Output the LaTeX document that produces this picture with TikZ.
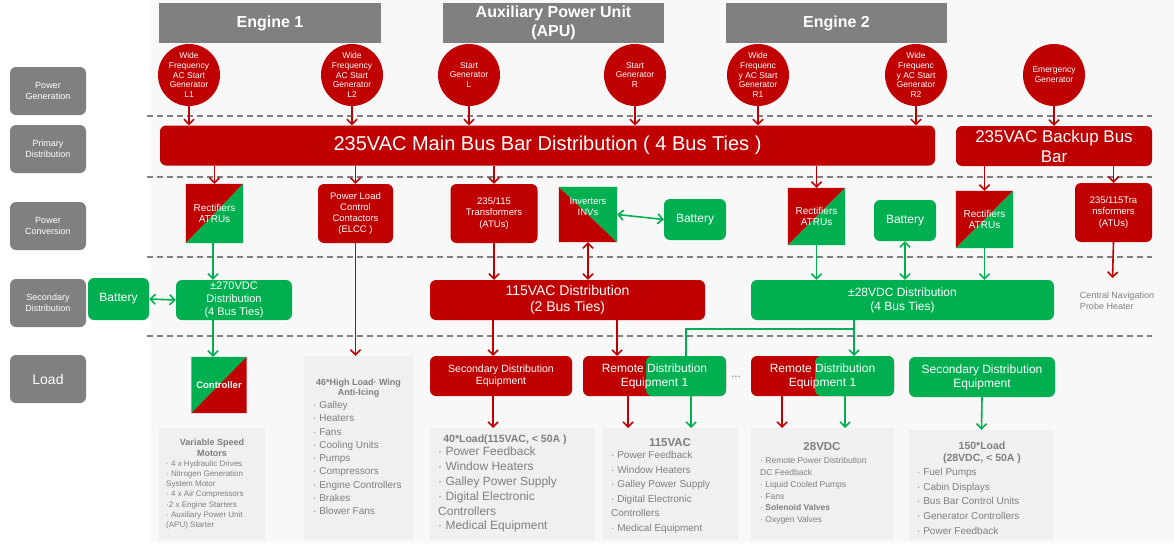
\documentclass[tikz,border=0pt]{standalone}
\usepackage{fontspec}
\setmainfont{Liberation Sans}
\usetikzlibrary{arrows.meta}
\definecolor{rd}{HTML}{C00000}
\definecolor{gn}{HTML}{00B050}
\definecolor{gy}{HTML}{808080}
\definecolor{tg}{HTML}{7F7F7F}
\definecolor{bg}{HTML}{F8F8F8}
\definecolor{lb}{HTML}{F0F0F0}
\newcommand{\fs}[1]{\fontsize{#1pt}{1.18\dimexpr #1pt\relax}\selectfont}
\tikzset{
 hdr/.style={fill=gy,text=white,font=\fs{16}\bfseries,align=center,inner sep=0pt},
 lab/.style={fill=gy,rounded corners=6pt,text=white,font=\fs{9},align=center,minimum width=76pt,minimum height=48pt,inner sep=0pt},
 gen/.style={circle,fill=rd,text=white,font=\fontsize{8.5}{9.8}\selectfont,align=center,minimum size=62pt,inner sep=0pt},
 rb/.style={fill=rd,rounded corners=6pt,text=white,align=center,inner sep=0pt},
 gb/.style={fill=gn,rounded corners=6pt,text=white,align=center,inner sep=0pt},
 sq/.style={inner sep=0pt,draw=none},
 sqt/.style={text=white,align=center,font=\fs{10}},
 lbox/.style={fill=lb,inner sep=0pt},
 ltx/.style={text=tg,align=left,inner sep=0pt},
 ra/.style={draw=rd,line width=1.6pt,-{Straight Barb[length=5pt,width=10pt]}},
 ga/.style={draw=gn,line width=1.6pt,-{Straight Barb[length=5pt,width=10pt]}},
 rda/.style={draw=rd,line width=1.6pt,{Straight Barb[length=5pt,width=10pt]}-{Straight Barb[length=5pt,width=10pt]}},
 gda/.style={draw=gn,line width=1.6pt,{Straight Barb[length=5pt,width=10pt]}-{Straight Barb[length=5pt,width=10pt]}},
 dl/.style={draw=gy,line width=1.3pt,dash pattern=on 6pt off 4pt},
}
\begin{document}
\begin{tikzpicture}[x=1pt,y=-1pt]
\useasboundingbox (0,0) rectangle (1174,543);
\fill[white] (0,0) rectangle (1174,543);
\fill[bg] (150,0) rectangle (1174,543);
% dashed separators
\foreach \y in {116,177,257,336} \draw[dl] (147,\y) -- (1152,\y);
% headers
\node[hdr,minimum width=222pt,minimum height=40pt] (e1) at (270,23) {Engine 1};
\node[hdr,minimum width=221pt,minimum height=40pt] (apu) at (553.5,23) {Auxiliary Power Unit\\(APU)};
\node[hdr,minimum width=221pt,minimum height=40pt] (e2) at (836.5,23) {Engine 2};
% left labels
\node[lab] (l1) at (48,91) {Power\\Generation};
\node[lab] (l2) at (48,149) {Primary\\Distribution};
\node[lab] (l3) at (48,226) {Power\\Conversion};
\node[lab] (l4) at (48,303) {Secondary\\Distribution};
\node[lab,font=\fs{14}] (l5) at (48,379) {Load};
% generators
\node[gen] (gL1) at (189,75) {Wide\\Frequency\\AC Start\\Generator\\L1};
\node[gen] (gL2) at (352,75) {Wide\\Frequency\\AC Start\\Generator\\L2};
\node[gen] (gSL) at (469,75) {Start\\Generator\\L};
\node[gen] (gSR) at (635,75) {Start\\Generator\\R};
\node[gen] (gR1) at (758,75) {Wide\\Frequenc\\y AC Start\\Generator\\R1};
\node[gen] (gR2) at (916,75) {Wide\\Frequenc\\y AC Start\\Generator\\R2};
\node[gen] (gEm) at (1054,75) {Emergency\\Generator};
% buses
\node[rb,font=\fs{20},minimum width=775pt,minimum height=40pt] (main) at (547.5,145.5) {235VAC Main Bus Bar Distribution ( 4 Bus Ties )};
\node[rb,font=\fs{17},minimum width=196pt,minimum height=40pt] (bk) at (1054,146) {235VAC Backup Bus\\Bar};
\foreach \g in {gL1,gL2,gSL,gSR,gR1,gR2} \draw[ra] (\g.south) -- (\g.south |- main.north);
\draw[ra] (gEm.south) -- (gEm.south |- bk.north);
% conversion
\node[sq,minimum width=57pt,minimum height=59pt] (rL) at (214.5,213.5) {};
\fill[rd] (rL.north west) -- (rL.north east) -- (rL.south west) -- cycle;
\fill[gn] (rL.north east) -- (rL.south east) -- (rL.south west) -- cycle;
\node[sqt] (rLt) at (rL) {Rectifiers\\ATRUs};
\node[rb,font=\fs{9.5},minimum width=75pt,minimum height=59pt] (elcc) at (355.5,213.5) {Power Load\\Control\\Contactors\\(ELCC )};
\node[rb,font=\fs{9.5},minimum width=87pt,minimum height=59pt] (tL) at (494,213.5) {235/115\\Transformers\\(ATUs)};
\node[sq,minimum width=58pt,minimum height=55pt] (inv) at (588,214.5) {};
\fill[rd] (inv.north west) -- (inv.south east) -- (inv.south west) -- cycle;
\fill[gn] (inv.north west) -- (inv.north east) -- (inv.south east) -- cycle;
\node[sqt,font=\fs{9.5}] (invt) at (588,207) {Inverters\\INVs};
\node[gb,font=\fs{12},minimum width=62pt,minimum height=41pt] (b1) at (695,219.5) {Battery};
\node[sq,minimum width=57pt,minimum height=57pt] (rR1) at (816.5,216.5) {};
\fill[rd] (rR1.north west) -- (rR1.north east) -- (rR1.south west) -- cycle;
\fill[gn] (rR1.north east) -- (rR1.south east) -- (rR1.south west) -- cycle;
\node[sqt] (rR1t) at (rR1) {Rectifiers\\ATRUs};
\node[gb,font=\fs{12},minimum width=62pt,minimum height=41pt] (b2) at (905,220.5) {Battery};
\node[sq,minimum width=57pt,minimum height=57pt] (r3) at (984.5,219.5) {};
\fill[rd] (r3.north west) -- (r3.north east) -- (r3.south west) -- cycle;
\fill[gn] (r3.north east) -- (r3.south east) -- (r3.south west) -- cycle;
\node[sqt] (r3t) at (r3) {Rectifiers\\ATRUs};
\node[rb,font=\fs{9.5},minimum width=77pt,minimum height=59pt] (tR) at (1113.5,212.5) {235/115Tra\\nsformers\\(ATUs)};
\draw[ra] (main.south -| rL.north) -- (rL.north);
\draw[ra] (main.south -| elcc.north) -- (elcc.north);
\draw[ra] (main.south -| tL.north) -- (tL.north);
\draw[ra] (main.south -| rR1.north) -- (rR1.north);
\draw[ra] (bk.south -| r3.north) -- (r3.north);
\draw[ra] (bk.south -| tR.north) -- (tR.north);
\draw[gda] (inv.east) -- (b1.west);
% secondary
\node[gb,font=\fs{12},minimum width=61pt,minimum height=42pt] (bL) at (118.5,299) {Battery};
\node[gb,font=\fs{11},minimum width=116pt,minimum height=40pt] (d270) at (234,300) {±270VDC\\Distribution\\(4 Bus Ties)};
\node[rb,font=\fs{14},minimum width=275pt,minimum height=40pt] (a115) at (567.5,300) {115VAC Distribution\\(2 Bus Ties)};
\node[gb,font=\fs{12},minimum width=303pt,minimum height=40pt] (d28) at (902.5,300) {±28VDC Distribution\\(4 Bus Ties)};
\node[text=tg,font=\fs{9},align=left] (cnp) at (1117,301) {Central Navigation\\Probe Heater};
\draw[gda] (bL.east) -- (d270.west);
\draw[ga] (rL.south -| 213,0) -- (d270.north -| 213,0);
\draw[ra] (tL.south) -- (tL.south |- a115.north);
\draw[rda] (inv.south) -- (inv.south |- a115.north);
\draw[ga] (rR1.south) -- (rR1.south |- d28.north);
\draw[gda] (b2.south) -- (b2.south |- d28.north);
\draw[ga] (r3.south) -- (r3.south |- d28.north);
\draw[ra] (tR.south) -- (1112.5,278);
% load row
\node[sq,minimum width=55pt,minimum height=56pt] (ctl) at (219,385) {};
\fill[gn] (ctl.north west) -- (ctl.north east) -- (ctl.south west) -- cycle;
\fill[rd] (ctl.north east) -- (ctl.south east) -- (ctl.south west) -- cycle;
\node[sqt,font=\fs{9.5}\bfseries] (ctlt) at (ctl) {Controller};
\draw[ga] (d270.south -| 213,0) -- (ctl.north -| 213,0);
\node[lbox,minimum width=106pt,minimum height=112pt] (vsm) at (212,484) {};
\node[text=tg,font=\fs{9}\bfseries,align=center] (vsmh) at (212,448) {Variable Speed\\Motors};
\node[ltx,font=\fontsize{8}{10.3}\selectfont,anchor=north west] (vsml) at (166,460) {· 4 x Hydraulic Drives\\· Nitrogen Generation\\System Motor\\· 4 x Air Compressors\\·2 x Engine Starters\\· Auxiliary Power Unit\\(APU) Starter};
\node[lbox,minimum width=109pt,minimum height=184pt] (hl) at (358.5,448) {};
\node[text=tg,font=\fs{9}\bfseries,align=center] (hlh) at (358.5,388) {46*High Load· Wing\\Anti-Icing};
\node[ltx,font=\fontsize{10}{13.3}\selectfont,anchor=north west] (hll) at (313,401) {· Galley\\· Heaters\\· Fans\\· Cooling Units\\· Pumps\\· Compressors\\· Engine Controllers\\· Brakes\\· Blower Fans};
\draw[ra] (elcc.south) -- (elcc.south |- hl.north);
\node[rb,font=\fs{10.5},minimum width=142pt,minimum height=40pt] (sdr) at (501,376) {Secondary Distribution\\Equipment};
\draw[ra] (493,320) -- (493,356);
\node[lbox,minimum width=165pt,minimum height=112pt] (l40) at (512.5,484) {};
\node[text=tg,font=\fs{10.5}\bfseries] (l40h) at (505,440) {40*Load(115VAC, < 50A )};
\node[ltx,font=\fontsize{12}{14.8}\selectfont,anchor=north west] (l40l) at (438,447) {· Power Feedback\\· Window Heaters\\· Galley Power Supply\\· Digital Electronic\\Controllers\\· Medical Equipment};
\draw[ra] (493,396) -- (493,428);
% remote 1
\node[rb,minimum width=143pt,minimum height=40pt] (rm1) at (654.5,376) {};
\fill[gn,rounded corners=6pt] (646,356) rectangle (726,396);
\node[text=white,font=\fs{12},align=center] (rm1t) at (654.5,376) {Remote Distribution\\Equipment 1};
\node[text=tg,font=\fs{12}] (dots) at (736,377) {...};
\node[rb,minimum width=143pt,minimum height=40pt] (rm2) at (822.5,376) {};
\fill[gn,rounded corners=6pt] (815,356) rectangle (894,396);
\node[text=white,font=\fs{12},align=center] (rm2t) at (822.5,376) {Remote Distribution\\Equipment 1};
\draw[ra] (617,320) -- (617,356);
\draw[gn,line width=1.6pt] (854,320) -- (854,329) -| (686,356);
\draw[ga] (854,329) -- (854,356);
\node[lbox,minimum width=135pt,minimum height=112pt] (l115) at (670.5,484) {};
\node[text=tg,font=\fs{11.5}\bfseries] (l115h) at (670,443) {115VAC};
\node[ltx,font=\fontsize{10}{14.6}\selectfont,anchor=north west] (l115l) at (611,451) {· Power Feedback\\· Window Heaters\\· Galley Power Supply\\· Digital Electronic\\Controllers\\· Medical Equipment};
\node[lbox,minimum width=143pt,minimum height=112pt] (l28) at (822.5,484) {};
\node[text=tg,font=\fs{11.5}\bfseries] (l28h) at (822,447) {28VDC};
\node[ltx,font=\fontsize{8.5}{11.9}\selectfont,anchor=north west] (l28l) at (760,457) {· Remote Power Distribution\\DC Feedback\\· Liquid Cooled Pumps\\· Fans\\· \textbf{Solenoid Valves}\\· Oxygen Valves};
\draw[ra] (628,396) -- (628,428);
\draw[ga] (691,396) -- (691,428);
\draw[ra] (782,396) -- (782,428);
\draw[ga] (845,396) -- (845,428);
\node[gb,font=\fs{12},minimum width=146pt,minimum height=40pt] (sdg) at (982,377) {Secondary Distribution\\Equipment};
\node[lbox,minimum width=145pt,minimum height=110pt] (l150) at (981.5,485) {};
\node[text=tg,font=\fs{10.5}\bfseries,align=center] (l150h) at (982,453) {150*Load\\(28VDC, < 50A )};
\node[ltx,font=\fontsize{10}{14.7}\selectfont,anchor=north west] (l150l) at (917,468) {· Fuel Pumps\\· Cabin Displays\\· Bus Bar Control Units\\· Generator Controllers\\· Power Feedback};
\draw[ga] (sdg.south) -- (l150.north);
\end{tikzpicture}
\end{document}
